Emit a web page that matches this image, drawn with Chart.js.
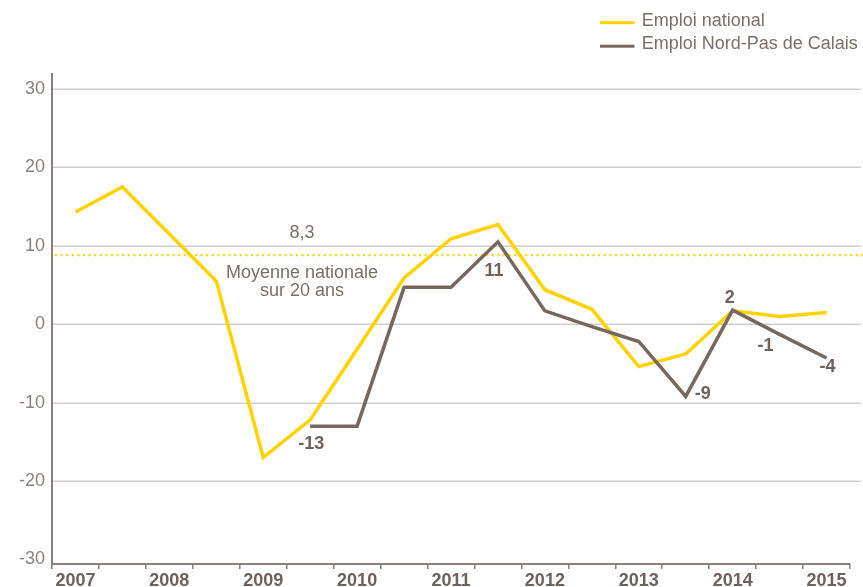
<!DOCTYPE html>
<html>
<head>
<meta charset="utf-8">
<script src="https://cdn.jsdelivr.net/npm/chart.js@4/dist/chart.umd.min.js"></script>
<style>
  html, body { margin: 0; padding: 0; background: #fff; }
  #chart { display: block; }
</style>
</head>
<body>
<canvas id="chart" width="863" height="587"></canvas>
<script>
// half-year slots, one year label every second slot
const periodes = ['2007', '', '2008', '', '2009', '', '2010', '', '2011', '', '2012', '', '2013', '', '2014', '', '2015'];
const emploiNational = [14.3, 17.5, 11.5, 5.5, -17.0, -12.2, -3.2, 5.9, 10.9, 12.7, 4.4, 1.9, -5.4, -3.8, 1.7, 1.0, 1.5];
const emploiNordPas = [null, null, null, null, null, -13.0, -13.0, 4.7, 4.7, 10.5, 1.7, -0.3, -2.2, -9.2, 1.8, -1.3, -4.3];
const etiquettesNordPas = ['', '', '', '', '', '-13', '', '', '', '11', '', '', '', '-9', '2', '-1', '-4'];
const yTicks = [-30, -20, -10, 0, 10, 20, 30];
const moyenneNiveau = 8.8;
const moyenneTexte = ['8,3', 'Moyenne nationale', 'sur 20 ans'];
const seriesNoms = ['Emploi national', 'Emploi Nord-Pas de Calais'];

const JAUNE = '#ffd200';
const BRUN = '#76685f';
const TEXTE = '#7b6f69';
const TEXTE_FONCE = '#6f625b';
const AXE = '#8a7f79';
const GRILLE = '#d3cecb';
const FONT = "'Liberation Sans', Arial, sans-serif";

Chart.defaults.font.family = FONT;

// horizontal gridlines run past the plot to the right edge, plus the dotted average
const grillePlugin = {
  id: 'grille',
  beforeDatasetsDraw(chart) {
    const ctx = chart.ctx;
    const y = chart.scales.y;
    const left = chart.chartArea.left + 1;
    ctx.save();
    ctx.strokeStyle = GRILLE;
    ctx.lineWidth = 1.5;
    yTicks.forEach(function (v) {
      if (v <= -30) return;
      const py = Math.round(y.getPixelForValue(v)) + 0.25;
      ctx.beginPath();
      ctx.moveTo(left, py);
      ctx.lineTo(861, py);
      ctx.stroke();
    });
    const my = y.getPixelForValue(moyenneNiveau);
    ctx.strokeStyle = JAUNE;
    ctx.lineWidth = 2.2;
    ctx.setLineDash([2, 3.6]);
    ctx.beginPath();
    ctx.moveTo(left + 2, my);
    ctx.lineTo(863, my);
    ctx.stroke();
    ctx.setLineDash([]);

    ctx.fillStyle = TEXTE;
    ctx.font = '18px ' + FONT;
    ctx.textAlign = 'center';
    ctx.textBaseline = 'alphabetic';
    const cx = chart.chartArea.left + 250;
    ctx.fillText(moyenneTexte[0], cx, my - 17.6);
    ctx.fillText(moyenneTexte[1], cx, my + 22.4);
    ctx.fillText(moyenneTexte[2], cx, my + 40.7);
    ctx.restore();
  }
};

// value labels next to the Nord-Pas de Calais line
const decalages = {5: [1, 22.8], 9: [-4, 33.9], 13: [17, 2.6], 14: [-3, -7.4], 15: [-14, 16.3], 16: [1, 14.4]};
const etiquettesPlugin = {
  id: 'etiquettes',
  afterDatasetsDraw(chart) {
    const ctx = chart.ctx;
    const meta = chart.getDatasetMeta(1);
    ctx.save();
    ctx.fillStyle = TEXTE_FONCE;
    ctx.font = 'bold 18px ' + FONT;
    ctx.textAlign = 'center';
    ctx.textBaseline = 'alphabetic';
    etiquettesNordPas.forEach(function (txt, i) {
      if (!txt) return;
      const pt = meta.data[i];
      const d = decalages[i] || [0, -8];
      ctx.fillText(txt, pt.x + d[0], pt.y + d[1]);
    });
    ctx.restore();
  }
};

const legendePlugin = {
  id: 'legende',
  afterDraw(chart) {
    const ctx = chart.ctx;
    ctx.save();
    ctx.font = '18px ' + FONT;
    ctx.textAlign = 'left';
    ctx.textBaseline = 'alphabetic';
    chart.data.datasets.forEach(function (ds, i) {
      const base = 25.5 + i * 23.5;
      ctx.fillStyle = ds.borderColor;
      ctx.fillRect(600, base - 4.3, 34.5, 3);
      ctx.fillStyle = TEXTE;
      ctx.fillText(ds.label, 641.7, base);
    });
    ctx.restore();
  }
};

new Chart(document.getElementById('chart'), {
  type: 'line',
  data: {
    labels: periodes,
    datasets: [
      {
        label: seriesNoms[0],
        data: emploiNational,
        borderColor: JAUNE,
        borderWidth: 3.5,
        order: 1
      },
      {
        label: seriesNoms[1],
        data: emploiNordPas,
        borderColor: BRUN,
        borderWidth: 3.5,
        order: 0
      }
    ]
  },
  options: {
    responsive: false,
    animation: false,
    layout: { padding: { top: 74, right: 13, left: 0, bottom: 0 } },
    elements: {
      point: { radius: 0 },
      line: { tension: 0, borderJoinStyle: 'miter', borderCapStyle: 'butt' }
    },
    plugins: {
      legend: { display: false },
      tooltip: { enabled: false }
    },
    scales: {
      x: {
        type: 'category',
        offset: true,
        grid: {
          offset: true,
          drawOnChartArea: false,
          drawTicks: true,
          tickLength: 5,
          color: AXE,
          lineWidth: 1.5
        },
        border: { color: AXE, width: 2 },
        ticks: {
          autoSkip: false,
          maxRotation: 0,
          padding: 1,
          color: TEXTE_FONCE,
          font: { size: 18, weight: 'bold' }
        },
        afterFit(scale) { scale.height = 23; }
      },
      y: {
        min: -30.57,
        max: 31.9,
        grid: { display: false, drawTicks: false },
        border: { color: AXE, width: 2 },
        ticks: {
          padding: 7,
          color: '#8c837e',
          font: { size: 18 }
        },
        afterBuildTicks(scale) {
          scale.ticks = yTicks.map(function (v) { return { value: v }; });
        },
        afterFit(scale) { scale.width = 52; }
      }
    }
  },
  plugins: [grillePlugin, etiquettesPlugin, legendePlugin]
});
</script>
</body>
</html>
